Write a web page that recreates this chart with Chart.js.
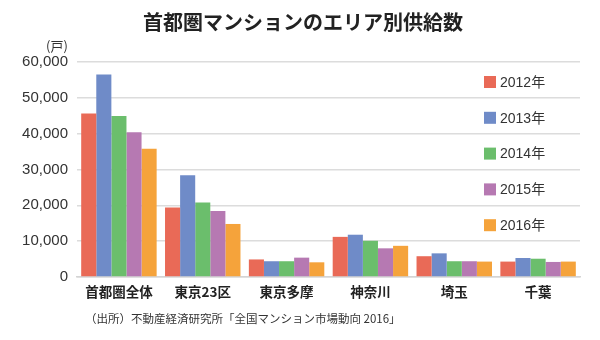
<!DOCTYPE html>
<html lang="ja">
<head>
<meta charset="utf-8">
<script src="https://cdn.jsdelivr.net/npm/chart.js@4/dist/chart.umd.min.js"></script>
<style>
  html, body { margin: 0; padding: 0; background: #fff; }
  #wrap { width: 600px; height: 340px; position: relative; }
</style>
</head>
<body>
<div id="wrap"><canvas id="chartSupply" width="600" height="340"></canvas></div>
<script>
'use strict';

/* エリア名と年ごとの供給戸数 */
const AREAS = ['首都圏全体', '東京23区', '東京多摩', '神奈川', '埼玉', '千葉'];
const YEARS = ['2012年', '2013年', '2014年', '2015年', '2016年'];

const SUPPLY_2012 = [45600, 19400, 4900, 11200, 5800, 4300];
const SUPPLY_2013 = [56500, 28400, 4400, 11800, 6600, 5300];
const SUPPLY_2014 = [44900, 20800, 4400, 10100, 4400, 5100];
const SUPPLY_2015 = [40400, 18400, 5400, 8000, 4400, 4200];
const SUPPLY_2016 = [35800, 14800, 4100, 8700, 4300, 4300];

const Y_TICKS = [0, 10000, 20000, 30000, 40000, 50000, 60000];

const COLORS = ['#E96A57', '#6F8BC8', '#6BBE6C', '#B679B2', '#F5A33B'];

const FONT_LATIN = "'Liberation Sans', 'Noto Sans CJK JP', sans-serif";
const FONT_JP = "'Noto Sans CJK JP', sans-serif";

const series = [SUPPLY_2012, SUPPLY_2013, SUPPLY_2014, SUPPLY_2015, SUPPLY_2016];

/* タイトル・単位・出所・凡例を描くプラグイン */
const decorations = {
    id: 'decorations',
    afterDraw(chart) {
        const ctx = chart.ctx;
        ctx.save();

        ctx.fillStyle = '#222';
        ctx.textAlign = 'center';
        ctx.textBaseline = 'middle';
        ctx.font = `bold 20px ${FONT_JP}`;
        ctx.fillText('首都圏マンションのエリア別供給数', 303, 22);

        ctx.fillStyle = '#333';
        ctx.font = `13px ${FONT_JP}`;
        ctx.fillText('(戸)', 57, 46);

        ctx.textAlign = 'left';
        ctx.font = `11.5px ${FONT_JP}`;
        ctx.fillText('（出所）不動産経済研究所「全国マンション市場動向 2016」', 85, 319);

        // 凡例（縦並び）
        ctx.font = `14px ${FONT_LATIN}`;
        chart.data.datasets.forEach((ds, i) => {
            const y = 82 + i * 35.8;
            ctx.fillStyle = ds.backgroundColor;
            ctx.fillRect(484, y - 6, 12, 12);
            ctx.fillStyle = '#333';
            ctx.fillText(ds.label, 500, y + 1);
        });

        ctx.restore();
    }
};

new Chart(document.getElementById('chartSupply'), {
    type: 'bar',
    data: {
        labels: AREAS,
        datasets: YEARS.map((year, i) => ({
            label: year,
            data: series[i],
            backgroundColor: COLORS[i],
            borderWidth: 0,
            categoryPercentage: 0.9,
            barPercentage: 1.0
        }))
    },
    options: {
        responsive: false,
        animation: false,
        layout: { padding: { left: 0, right: 20, top: 62, bottom: 0 } },
        plugins: {
            legend: { display: false },
            title: { display: false },
            tooltip: { enabled: false }
        },
        scales: {
            x: {
                grid: { display: false, drawTicks: false },
                border: { display: true, color: '#d4d4d4', width: 1.5 },
                ticks: {
                    color: '#222',
                    padding: 7,
                    font: { family: FONT_JP, size: 13.5, weight: 'bold' }
                },
                afterFit(scale) { scale.height = 63; }
            },
            y: {
                min: 0,
                max: 60000,
                afterBuildTicks(scale) {
                    scale.ticks = Y_TICKS.map(v => ({ value: v }));
                },
                grid: { color: '#dcdcdc', lineWidth: 1.5, drawTicks: false },
                border: { display: false },
                ticks: {
                    color: '#333',
                    padding: 9,
                    font: { family: FONT_LATIN, size: 15 },
                    callback: v => v.toLocaleString('en-US')
                },
                afterFit(scale) { scale.width = 77; }
            }
        }
    },
    plugins: [decorations]
});
</script>
</body>
</html>
